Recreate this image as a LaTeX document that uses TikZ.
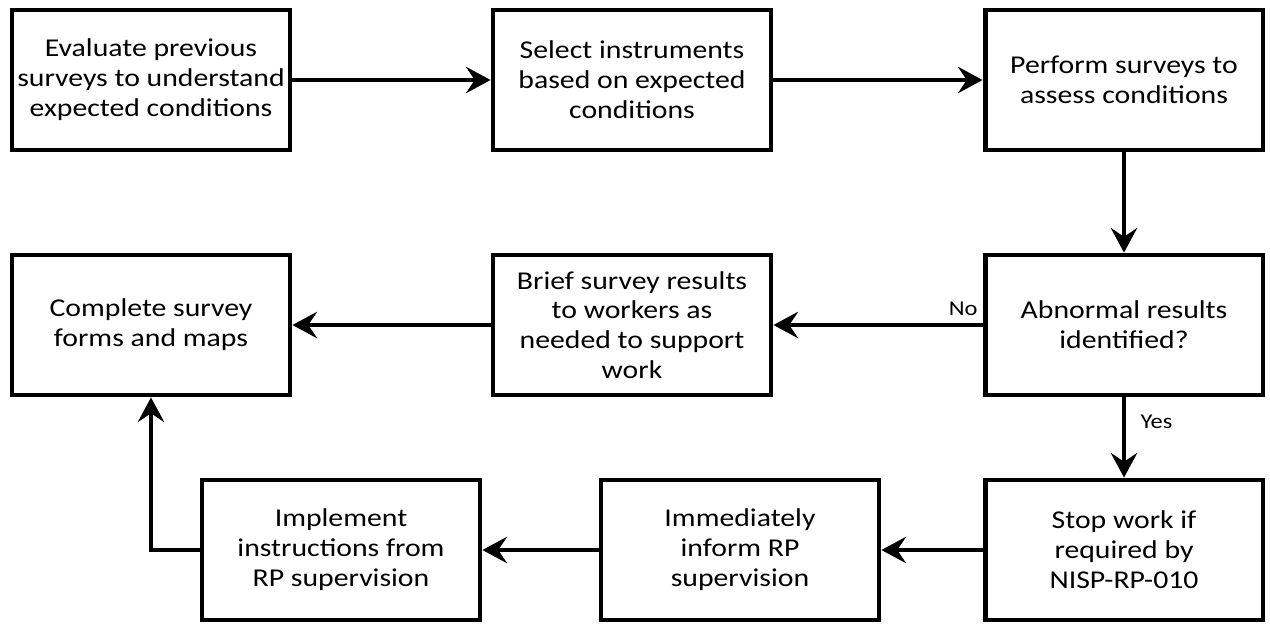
\documentclass[tikz,border=0pt]{standalone}
\usepackage{fontspec}
\setmainfont{Carlito}[FakeStretch=1.16]
\usetikzlibrary{arrows.meta}
\begin{document}
\begin{tikzpicture}[x=0.02cm,y=-0.02cm,
  box/.style={draw, line width=2.8pt, rectangle, minimum width=5.56cm, minimum height=2.8cm, inner sep=0pt, align=center, font=\fontsize{14.6pt}{17pt}\selectfont},
  conn/.style={line width=2.8pt, -{Stealth[length=14pt,width=15pt,inset=5pt]}},
  lbl/.style={font=\fontsize{12pt}{14pt}\selectfont, inner sep=0pt}]
\useasboundingbox (0,0) rectangle (1270,626);
\node[box] (A) at (151,80) {Evaluate previous\\surveys to understand\\expected conditions};
\node[box] (B) at (632,80) {Select instruments\\based on expected\\conditions};
\node[box] (C) at (1124,80) {Perform surveys to\\assess conditions};
\node[box] (F) at (151,325) {Complete survey\\forms and maps};
\node[box] (E) at (632,325) {Brief survey results\\to workers as\\needed to support\\work};
\node[box] (D) at (1124,325) {Abnormal results\\identified?};
\node[box] (G) at (341,550) {Implement\\instructions from\\RP supervision};
\node[box] (H) at (740,550) {Immediately\\inform RP\\supervision};
\node[box] (I) at (1124,550) {Stop work if\\required by\\NISP-RP-010};
\draw[conn] (A) -- (B);
\draw[conn] (B) -- (C);
\draw[conn] (C) -- (D);
\draw[conn] (D) -- node[lbl, pos=0, anchor=south east, xshift=-1.5pt, yshift=4pt] (no) {No} (E);
\draw[conn] (E) -- (F);
\draw[conn] (D) -- node[lbl, pos=0.3, right=8pt] (yes) {Yes} (I);
\draw[conn] (I) -- (H);
\draw[conn] (H) -- (G);
\draw[conn] (G.west) -| (F.south);
\end{tikzpicture}
\end{document}
